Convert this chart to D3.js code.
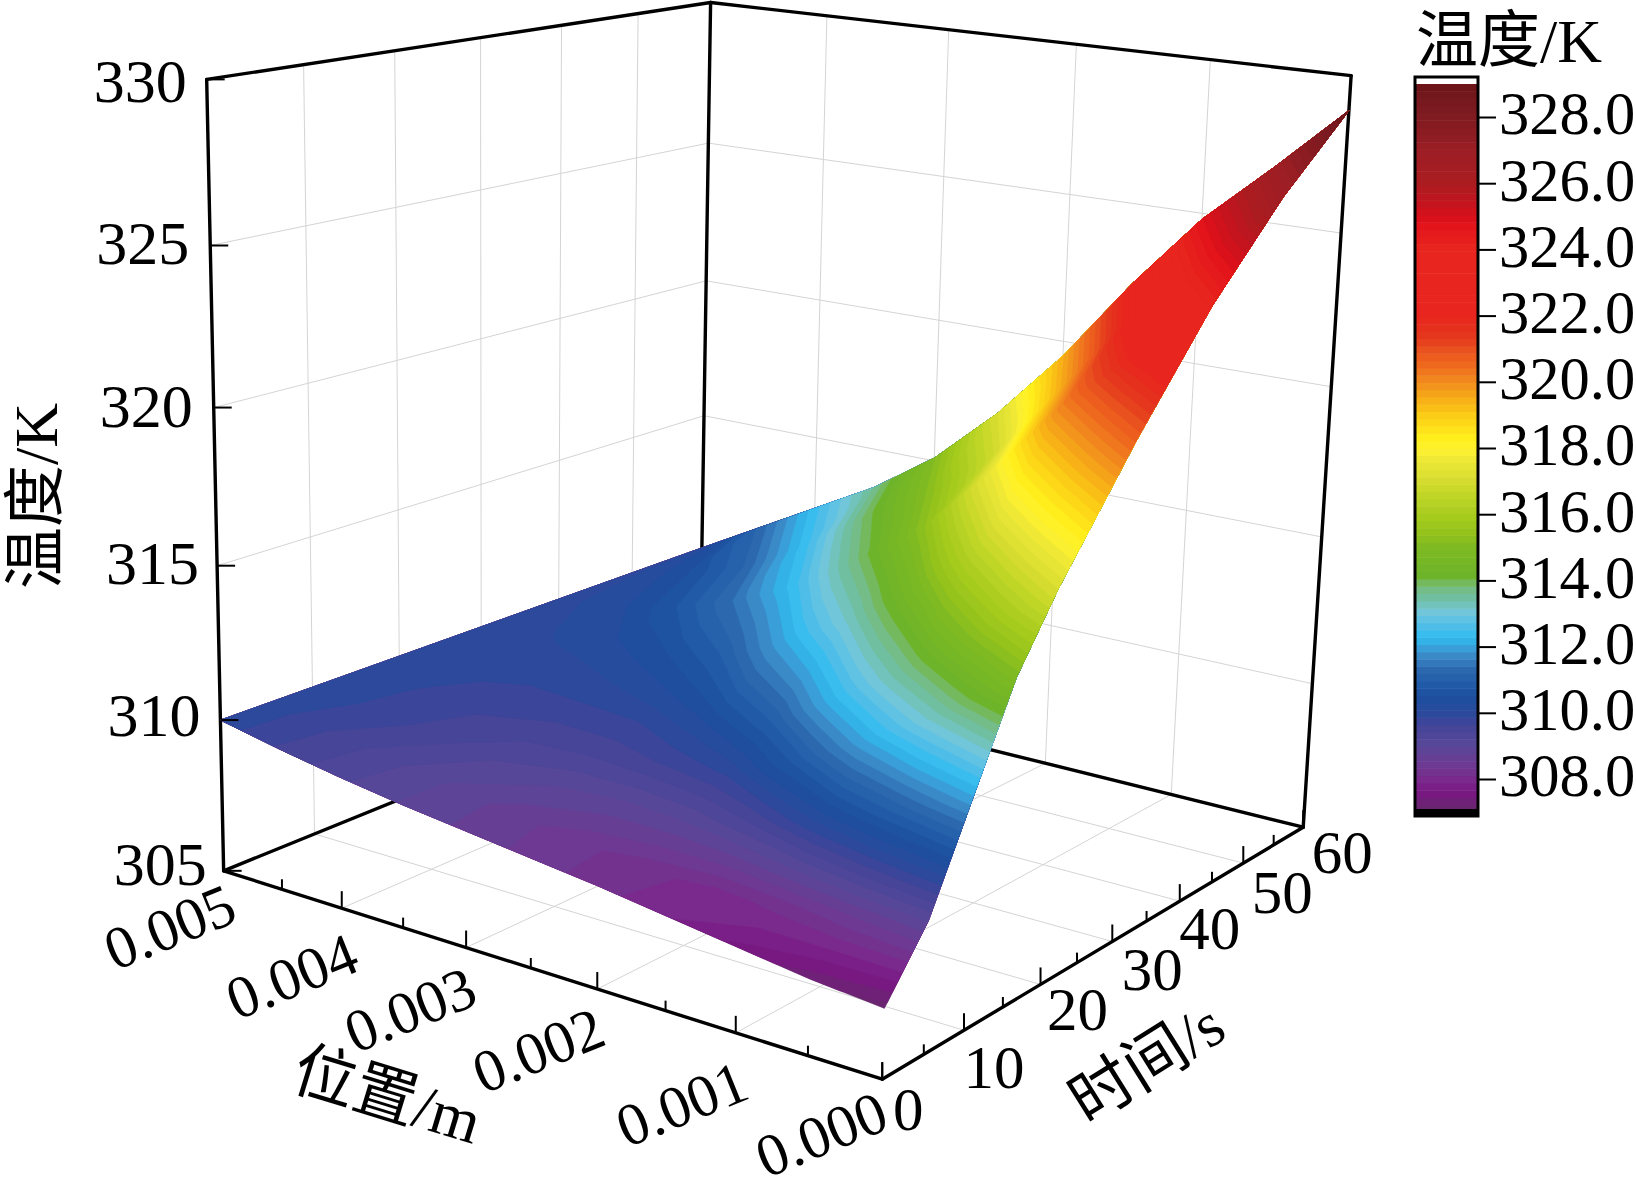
<!DOCTYPE html>
<html><head><meta charset="utf-8">
<style>html,body{margin:0;padding:0;background:#fff;overflow:hidden}
text{font-family:"Liberation Serif","Noto Sans CJK SC",serif;fill:#000}</style>
<script src="https://cdn.jsdelivr.net/npm/d3@7/dist/d3.min.js"></script>
</head><body><svg id="c" width="1636" height="1179"></svg>
<script>
// ---------- data ----------
const positionsMm = [0,0.5,1,1.5,2,2.5,3,3.5,4,4.5,5];           // ×0.001 m
const times       = [0,5,10,15,20,30,40,50,60];                   // s
const temp_t0  = [307.1,307.3,307.6,307.9,308.2,308.45,308.7,308.95,309.25,309.6,310];
const temp_t5  = [309.0,308.6,308.2,308.0,308.2,308.4,308.65,308.95,309.3,309.65,310];
const temp_t10 = [312.0,311.0,310.2,309.4,309.0,308.9,309.0,309.2,309.55,309.82,310];
const temp_t15 = [315.0,313.4,312.1,310.8,309.9,309.65,309.5,309.5,309.65,309.85,310];
const temp_t20 = [317.1,315.4,313.7,312.3,310.9,310.2,309.85,309.8,309.8,309.9,310];
const temp_t30 = [320.7,318.8,316.9,314.8,313.2,312.0,310.9,310.4,310.15,310.05,310];
const temp_t40 = [324.0,322.2,320.2,317.6,315.3,313.8,312.4,311.4,310.7,310.2,310];
const temp_t50 = [326.7,324.6,322.4,319.6,316.9,315.2,313.9,312.4,311.2,310.5,310];
const temp_t60 = [328.9,326.8,324.8,322.3,319.5,317.1,315.1,313.6,312.4,311.2,310];
const tempRows = [temp_t0,temp_t5,temp_t10,temp_t15,temp_t20,temp_t30,temp_t40,temp_t50,temp_t60];

const posTicks  = [0.005,0.004,0.003,0.002,0.001,0];
const posMinor  = [0.0045,0.0035,0.0025,0.0015,0.0005];
const timeTicks = [0,10,20,30,40,50,60];
const timeMinor = [5,15,25,35,45,55];
const tempTicks = [305,310,315,320,325,330];
const barTicks  = [308,310,312,314,316,318,320,322,324,326,328];
const colorStops = [307.1,307.2,307.6,308,308.5,309,309.7,310,310.5,310.9,311.3,311.7,312,312.3,312.5,313,313.2,313.5,313.9,314,314.1,315,315.5,316,316.5,317,317.6,318,318.3,319.06,319.5,320,320.5,321,321.3,322,324,324.8,325,325.5,326,327,327.5,328.3,329];
const colorValues = ["#6a2570","#6a2570","#7a1784","#7a2a8c","#6b3c94","#5a4798","#3f4498","#2a4a9c","#1c4f9e","#225ca8","#2c68ae","#3a87c6","#3aa3dc","#2dbdf0","#45bcec","#70c7e0","#73c4c5","#70bfa0","#77bb74","#6db42a","#6db42a","#7eb923","#96c41a","#a8cc1e","#bcd526","#d5dc2f","#ece737","#fff22e","#fff01c","#fcc915","#f7ad17","#f28c1e","#ee6a1e","#e9501e","#e43a1e","#e8251e","#e8251e","#e3131a","#d5101a","#c01620","#aa1c20","#9c1f25","#8b1c22","#7a1a20","#6b1418"];
const bandStep = 0.22, bandMin = 307.0;

// ---------- scales ----------
const uScale = d3.scaleLinear([0,0.005],[0,1]);
const vScale = d3.scaleLinear([0,60],[0,1]);
const wScale = d3.scaleLinear([305,330],[0,1]);
const colorScale = d3.scaleLinear(colorStops,colorValues).interpolate(d3.interpolateRgb).clamp(true);
const barY = d3.scaleLinear([308,328],[779,117]);

// ---------- camera: fitted to where the box corners and ticks sit ----------
const anchors = [
 [1,0,0,223,871],[1,0,1,207,79],[1,1,1,712,2.5],[1,1,0,701,678],[0,1,1,1351,75.5],[0,1,0,1303,827],[0,0,0,882,1080],
 [.8,0,0,342,908],[.6,0,0,467,948],[.4,0,0,598,988],[.2,0,0,736,1033],
 [0,1/6,0,963,1030],[0,2/6,0,1040,985],[0,.5,0,1113,942],[0,4/6,0,1180,901],[0,5/6,0,1243,863],
 [.2,1,0,1172,794],[.4,1,0,1045,763],[1,1/6,0,314,833],[1,0,.8,210,246],[1,1,.8,708,143],[1,1,.6,705,281],[1,1,.4,703,416]];
function fitCamera(pts){
  const n=11, A=d3.range(n).map(()=>new Array(n+1).fill(0));
  const add=(r,b)=>{for(let i=0;i<n;i++){for(let j=0;j<n;j++)A[i][j]+=r[i]*r[j];A[i][n]+=r[i]*b;}};
  pts.forEach(([u,v,w,x,y])=>{
    add([u,v,w,1,0,0,0,0,-x*u,-x*v,-x*w],x);
    add([0,0,0,0,u,v,w,1,-y*u,-y*v,-y*w],y);
  });
  for(let i=0;i<n;i++){
    let m=i;for(let k=i+1;k<n;k++)if(Math.abs(A[k][i])>Math.abs(A[m][i]))m=k;
    [A[i],A[m]]=[A[m],A[i]];
    for(let k=0;k<n;k++)if(k!==i){const f=A[k][i]/A[i][i];for(let j=i;j<=n;j++)A[k][j]-=f*A[i][j];}
  }
  return A.map((r,i)=>r[n]/r[i]);
}
const P=fitCamera(anchors);
function cube(u,v,w){const d=P[8]*u+P[9]*v+P[10]*w+1;
  return [(P[0]*u+P[1]*v+P[2]*w+P[3])/d,(P[4]*u+P[5]*v+P[6]*w+P[7])/d];}
const proj=(pos,t,T)=>cube(uScale(pos),vScale(t),wScale(T));

const svg=d3.select("#c");
const line=(a,b)=>`M${a[0]},${a[1]}L${b[0]},${b[1]}`;

// ---------- grids ----------
const grid=svg.append("g").attr("stroke","#d4d4d4").attr("stroke-width",1).attr("fill","none");
const P0=0,P5=0.005,T0=305,T1=330,S0=0,S1=60;
const drawGrid=(a,b)=>grid.append("path").attr("d",line(a,b));
[0.004,0.003,0.002,0.001].forEach(p=>{
  drawGrid(proj(p,S0,T0),proj(p,S1,T0));
  drawGrid(proj(p,S1,T0),proj(p,S1,T1));
});
[10,20,30,40,50].forEach(t=>{
  drawGrid(proj(P0,t,T0),proj(P5,t,T0));
  drawGrid(proj(P5,t,T0),proj(P5,t,T1));
});
[310,315,320,325].forEach(T=>{
  drawGrid(proj(P5,S0,T),proj(P5,S1,T));
  drawGrid(proj(P5,S1,T),proj(P0,S1,T));
});

// ---------- box ----------
const box=svg.append("g").attr("stroke","#000").attr("stroke-width",3.4).attr("fill","none").attr("stroke-linecap","round");
[[[P5,S0,T0],[P0,S0,T0]],[[P0,S0,T0],[P0,S1,T0]],[[P5,S0,T0],[P5,S1,T0]],[[P5,S1,T0],[P0,S1,T0]],
 [[P5,S0,T0],[P5,S0,T1]],[[P5,S1,T0],[P5,S1,T1]],[[P0,S1,T0],[P0,S1,T1]],
 [[P5,S0,T1],[P5,S1,T1]],[[P5,S1,T1],[P0,S1,T1]]].forEach(([a,b])=>{
  box.append("path").attr("d",line(proj(...a),proj(...b)));
});

// ---------- surface ----------
const nx=positionsMm.length, ny=times.length;
const values=tempRows.flat();
function gridPoint(gx,gy){
  const cx=Math.max(.5,Math.min(nx-.5,gx))-.5, cy=Math.max(.5,Math.min(ny-.5,gy))-.5;
  const i=Math.min(nx-2,Math.floor(cx)), j=Math.min(ny-2,Math.floor(cy)), a=cx-i, b=cy-j;
  const T=(1-a)*(1-b)*tempRows[j][i]+a*(1-b)*tempRows[j][i+1]+(1-a)*b*tempRows[j+1][i]+a*b*tempRows[j+1][i+1];
  return proj(positionsMm[i]/1000*(1-a)+positionsMm[i+1]/1000*a,times[j]*(1-b)+times[j+1]*b,T);
}
const surfacePath=d3.geoPath(d3.geoTransform({point(x,y){const s=gridPoint(x,y);this.stream.point(s[0],s[1]);}}));
const contours=d3.contours().size([nx,ny]);
const levels=d3.range(bandMin,329.4,bandStep);
svg.append("g").selectAll("path").data(levels).join("path")
  .attr("d",l=>surfacePath(contours.contour(values,l)))
  .attr("fill",l=>colorScale(l+bandStep/2))
  .attr("stroke",l=>colorScale(l+bandStep/2)).attr("stroke-width",.4);

// ---------- ticks ----------
const ticks=svg.append("g").attr("stroke","#000").attr("fill","none");
const vTick=(pt,len,w)=>ticks.append("path").attr("stroke-width",w).attr("d",`M${pt[0]},${pt[1]}v${-len}`);
posTicks.forEach(p=>vTick(proj(p,S0,T0),17,2));
posMinor.forEach(p=>vTick(proj(p,S0,T0),10,2));
timeTicks.forEach(t=>vTick(proj(P0,t,T0),17,2));
timeMinor.forEach(t=>vTick(proj(P0,t,T0),10,2));
tempTicks.forEach(T=>{const a=proj(P5,S0,T);ticks.append("path").attr("stroke-width",2).attr("d",`M${a[0]},${a[1]}h18`);});

// ---------- labels ----------
const txt=svg.append("g");
const posNudge=[[-54,56],[-50,68],[-56,62],[-59,61],[-54,71],[-61,55]];
posTicks.forEach((p,i)=>{const a=proj(p,S0,T0);
  txt.append("text").attr("transform",`translate(${a[0]+posNudge[i][0]},${a[1]+posNudge[i][1]}) rotate(-22)`)
   .attr("text-anchor","middle").attr("dy",".34em").attr("font-size",60).text(d3.format(".3f")(p));});
const timeNudge=[[26,30],[30,37],[37,25],[40,28],[30,27],[39,29],[39,25]];
timeTicks.forEach((t,i)=>{const a=proj(P0,t,T0);
  txt.append("text").attr("x",a[0]+timeNudge[i][0]).attr("y",a[1]+timeNudge[i][1])
   .attr("text-anchor","middle").attr("dy",".34em").attr("font-size",61).text(t);});
const tempNudge=[[-17,-7],[-20,-5],[-18,-3],[-21,-2],[-21,-3],[-20,2]];
tempTicks.forEach((T,i)=>{const a=proj(P5,S0,T);
  txt.append("text").attr("x",a[0]+tempNudge[i][0]).attr("y",a[1]+tempNudge[i][1]).attr("text-anchor","end").attr("dy",".34em").attr("font-size",62).text(T);});
const title=(s,x,y,r,size)=>txt.append("text").attr("transform",`translate(${x},${y}) rotate(${r})`)
   .attr("text-anchor","middle").attr("font-size",size).text(s);
title("位置/m",381,1116,17,63);
title("时间/s",1158,1081,-32,63);
title("温度/K",57,496,-90,62);
title("温度/K",1509,62,0,62);

// ---------- colour bar ----------
const bar=svg.append("g");
const barX=1414, barW=65, barTop=84;
bar.append("rect").attr("x",barX).attr("y",76).attr("width",barW).attr("height",741).attr("fill","#fff");
bar.selectAll(".band").data(levels.filter(l=>l<329)).join("rect")
  .attr("x",barX).attr("width",barW)
  .attr("y",l=>Math.max(barTop,barY(l+bandStep)))
  .attr("height",l=>Math.max(0,barY(l)-Math.max(barTop,barY(l+bandStep))+.5))
  .attr("fill",l=>colorScale(l+bandStep/2));
bar.append("rect").attr("x",barX).attr("y",809).attr("width",barW).attr("height",8).attr("fill","#000");
bar.append("rect").attr("x",barX+1).attr("y",77).attr("width",barW-2).attr("height",739).attr("fill","none").attr("stroke","#000").attr("stroke-width",3);
const ax=bar.append("g").attr("transform",`translate(${barX+barW},0)`)
  .call(d3.axisRight(barY).tickValues(barTicks).tickSize(17).tickPadding(3).tickFormat(d3.format(".1f")));
ax.select(".domain").remove();
ax.selectAll("line").attr("stroke","#000").attr("stroke-width",2);
ax.selectAll("text").attr("font-size",60.5).attr("font-family",'"Liberation Serif"').attr("dy",".28em");
</script></body></html>
